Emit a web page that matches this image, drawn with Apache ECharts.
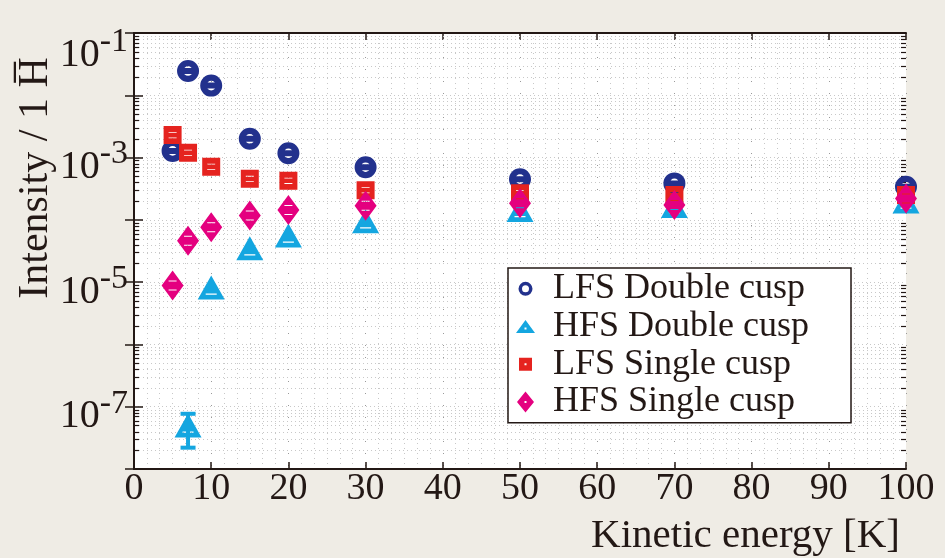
<!DOCTYPE html>
<html>
<head>
<meta charset="utf-8">
<script src="https://cdn.jsdelivr.net/npm/echarts@6/dist/echarts.min.js"></script>
<style>
  html, body { margin: 0; padding: 0; background: #efece5; }
  #chart { width: 945px; height: 558px; }
</style>
</head>
<body>
<div id="chart"></div>
<script>
// Kinetic energies of the antihydrogen beam [K]
const energiesK = [5, 7, 10, 15, 20, 30, 50, 70, 100];

// Relative intensity per produced antihydrogen atom
const lfsDoubleCusp = [1.28e-3, 2.45e-2, 1.43e-2, 2.0e-3, 1.17e-3, 7.0e-4, 4.5e-4, 3.85e-4, 3.4e-4];
const hfsDoubleCusp = [null, 5.0e-8, 8.2e-6, 3.5e-5, 5.6e-5, 9.5e-5, 1.44e-4, 1.67e-4, 1.97e-4];
const lfsSingleCusp = [2.3e-3, 1.2e-3, 7.15e-4, 4.55e-4, 4.25e-4, 3.0e-4, 2.67e-4, 2.5e-4, 2.5e-4];
const hfsSingleCusp = [8.8e-6, 4.6e-5, 7.6e-5, 1.17e-4, 1.44e-4, 1.69e-4, 1.85e-4, 1.73e-4, 2.2e-4];

// Error bar of the low-statistics HFS double-cusp point: [energy, low, high]
const hfsDoubleErrors = [[7, 2.2e-8, 7.7e-8]];

const seriesNames = ['LFS Double cusp', 'HFS Double cusp', 'LFS Single cusp', 'HFS Single cusp'];

// Log-axis extent (decades)
const yMin = 1e-8, yMax = 1e-1;

// Minor positions 2..9 inside every decade, used for minor ticks and grid rows
const minorTickValues = [];
for (let e = -8; e <= -2; e++) {
  for (let k = 2; k <= 9; k++) minorTickValues.push(k * Math.pow(10, e));
}

const ink = '#231815';
const serif = "'Liberation Serif', 'Times New Roman', 'DejaVu Serif', serif";
const colors = ['#22318d', '#14a6e0', '#e5231f', '#e4007f'];

// Marker shapes (outer outline clockwise, white slits counter-clockwise)
const symCircle = 'path://M0,11 A11,11 0 1,1 22,11 A11,11 0 1,1 0,11 Z M6.2,11 A4.8,4.8 0 1,0 15.8,11 A4.8,4.8 0 1,0 6.2,11 Z M5,8 L17,8 L17,14 L5,14 Z';
const symTriangle = 'path://M13.5,0 L27,24 L0,24 Z M8,18 L8,19.3 L19,19.3 L19,18 Z';
const symSquare = 'path://M0,0 L18,0 L18,18 L0,18 Z M5,6 L5,6.8 L13,6.8 L13,6 Z M5,11.4 L5,12.2 L13,12.2 L13,11.4 Z';
const symDiamond = 'path://M11,0 L22,15 L11,30 L0,15 Z M7,10 L7,11 L15,11 L15,10 Z M7,19 L7,20 L15,20 L15,19 Z';

// Legend icons drawn in a 19x22 box (corner points fix the box)
const box = ' M0,0 L0,0 Z M19,22 L19,22 Z';
const iconCircle = 'path://M2.5,11 A7,7 0 1,1 16.5,11 A7,7 0 1,1 2.5,11 Z M6,11 A3.5,3.5 0 1,0 13,11 A3.5,3.5 0 1,0 6,11 Z' + box;
const iconTriangle = 'path://M9.5,4.5 L19,17.5 L0,17.5 Z M8.5,12 L8.5,14 L10.5,14 L10.5,12 Z' + box;
const iconSquare = 'path://M3,4.5 L16,4.5 L16,17.5 L3,17.5 Z M8.5,10 L8.5,12 L10.5,12 L10.5,10 Z' + box;
const iconDiamond = 'path://M9.5,0.5 L18,11 L9.5,21.5 L1,11 Z M8.5,10 L8.5,12 L10.5,12 L10.5,10 Z' + box;

function pairs(values) {
  const out = [];
  values.forEach((v, i) => { if (v != null) out.push([energiesK[i], v]); });
  return out;
}

function scatter(name, values, symbol, size, color) {
  return {
    name, type: 'scatter', data: pairs(values), symbol, symbolSize: size,
    symbolKeepAspect: false, clip: false,
    itemStyle: { color, opacity: 1 }, emphasis: { disabled: true }, z: 3
  };
}

const chart = echarts.init(document.getElementById('chart'), null, { renderer: 'canvas' });

const option = {
  backgroundColor: '#efece5',
  animation: false,
  grid: {
    left: 134, right: 39, top: 33, bottom: 89,
    show: true, backgroundColor: '#ffffff', borderWidth: 0,
    outerBoundsMode: 'none'
  },
  legend: {
    orient: 'vertical', left: 508, top: 268,
    backgroundColor: '#ffffff', borderColor: ink, borderWidth: 1.5, borderRadius: 0,
    padding: [2, 42, 2, 8], itemGap: 0, itemWidth: 19, itemHeight: 22,
    selectedMode: false,
    textStyle: { fontFamily: serif, fontSize: 36, color: ink, lineHeight: 37.7, padding: [0, 0, 0, 13] },
    data: [
      { name: seriesNames[0], icon: iconCircle },
      { name: seriesNames[1], icon: iconTriangle },
      { name: seriesNames[2], icon: iconSquare },
      { name: seriesNames[3], icon: iconDiamond }
    ]
  },
  xAxis: [
    {
      type: 'value', min: 0, max: 100, interval: 10, position: 'bottom',
      name: 'Kinetic energy [K]', nameLocation: 'end', nameGap: -6, nameMoveOverlap: false,
      nameTextStyle: { fontFamily: serif, fontSize: 41, color: ink, align: 'right', verticalAlign: 'top', padding: [47, 0, 0, 0] },
      axisLine: { show: true, lineStyle: { color: ink, width: 2 } },
      axisTick: { show: true, inside: true, length: 7, lineStyle: { color: ink, width: 1.5 } },
      axisLabel: { fontFamily: serif, fontSize: 38, color: ink, margin: 1 },
      splitLine: { show: true, lineStyle: { color: '#9a9a9a', width: 1, type: [1, 11] } },
      minorTick: { show: false, splitNumber: 6 },
      minorSplitLine: { show: true, lineStyle: { color: '#c8c8c8', width: 1, type: [1, 4] } }
    },
    {
      type: 'value', min: 0, max: 100, interval: 10, position: 'top',
      axisLine: { show: true, lineStyle: { color: ink, width: 2 } },
      axisTick: { show: true, inside: true, length: 7, lineStyle: { color: ink, width: 1.5 } },
      axisLabel: { show: false }, splitLine: { show: false }
    }
  ],
  yAxis: [
    {
      type: 'log', logBase: 10, min: yMin, max: yMax, splitNumber: 7, position: 'left',
      name: 'Intensity / 1 H\u0305', nameLocation: 'middle', nameGap: 77, nameRotate: 90, nameMoveOverlap: false,
      nameTextStyle: { fontFamily: serif, fontSize: 42, color: ink, lineHeight: 42, padding: [0, 0, 0, 146] },
      axisLine: { show: true, lineStyle: { color: ink, width: 2 } },
      axisTick: { show: true, inside: true, length: 9, lineStyle: { color: ink, width: 1.5 } },
      axisLabel: {
        margin: 6,
        formatter: (v) => {
          const e = Math.round(Math.log10(v));
          if (e % 2 === 0) return '';
          return e === -1 ? '{bt|10}{st|' + e + '}' : '{b|10}{s|' + e + '}';
        },
        rich: {
          b: { fontFamily: serif, fontSize: 40, lineHeight: 40, color: ink, verticalAlign: 'top', padding: [10, 0, 4, 0] },
          s: { fontFamily: serif, fontSize: 34, lineHeight: 34, color: ink, verticalAlign: 'top', padding: [0, 0, 0, 0] },
          bt: { fontFamily: serif, fontSize: 40, lineHeight: 40, color: ink, verticalAlign: 'top', padding: [22, 0, 0, 0] },
          st: { fontFamily: serif, fontSize: 34, lineHeight: 34, color: ink, verticalAlign: 'top', padding: [12, 0, 0, 0] }
        }
      },
      splitLine: { show: true, lineStyle: { color: '#c8c8c8', width: 1, type: [1, 3] } }
    },
    {
      type: 'log', logBase: 10, min: yMin, max: yMax, splitNumber: 7, position: 'right',
      axisLine: { show: true, lineStyle: { color: ink, width: 2 } },
      axisTick: { show: true, inside: true, length: 9, lineStyle: { color: ink, width: 1.5 } },
      axisLabel: { show: false }, splitLine: { show: false }
    }
  ],
  series: [
    {
      // minor grid rows and minor ticks on both vertical axes of the log scale
      name: 'minor', type: 'custom', silent: true, z: 1,
      data: minorTickValues.map(v => [0, v]),
      encode: { x: 0, y: 1 },
      renderItem: (params, api) => {
        const v = api.value(1);
        const a = api.coord([0, v]);
        const b = api.coord([100, v]);
        const y = Math.round(a[1]) + 0.5;
        return {
          type: 'group',
          children: [
            { type: 'line', shape: { x1: a[0] + 1, y1: y, x2: b[0] - 1, y2: y }, style: { stroke: '#c8c8c8', lineWidth: 1, lineDash: [1, 3] } },
            { type: 'line', shape: { x1: a[0], y1: y, x2: a[0] + 5, y2: y }, style: { stroke: ink, lineWidth: 1.2 } },
            { type: 'line', shape: { x1: b[0] - 5, y1: y, x2: b[0], y2: y }, style: { stroke: ink, lineWidth: 1.2 } }
          ]
        };
      }
    },
    scatter(seriesNames[0], lfsDoubleCusp, symCircle, [22, 22], colors[0]),
    {
      name: 'HFS error', type: 'custom', silent: true, z: 3,
      data: hfsDoubleErrors, encode: { x: 0, y: [1, 2] },
      renderItem: (params, api) => {
        const lo = api.coord([api.value(0), api.value(1)]);
        const hi = api.coord([api.value(0), api.value(2)]);
        const st = { stroke: colors[1], lineWidth: 4 };
        return {
          type: 'group',
          children: [
            { type: 'line', shape: { x1: lo[0], y1: lo[1], x2: hi[0], y2: hi[1] }, style: st },
            { type: 'line', shape: { x1: lo[0] - 7.5, y1: lo[1], x2: lo[0] + 7.5, y2: lo[1] }, style: st },
            { type: 'line', shape: { x1: hi[0] - 7.5, y1: hi[1], x2: hi[0] + 7.5, y2: hi[1] }, style: st }
          ]
        };
      }
    },
    scatter(seriesNames[1], hfsDoubleCusp, symTriangle, [27, 24], colors[1]),
    scatter(seriesNames[2], lfsSingleCusp, symSquare, [18, 18], colors[2]),
    scatter(seriesNames[3], hfsSingleCusp, symDiamond, [22, 30], colors[3])
  ]
};

chart.setOption(option);
</script>
</body>
</html>
